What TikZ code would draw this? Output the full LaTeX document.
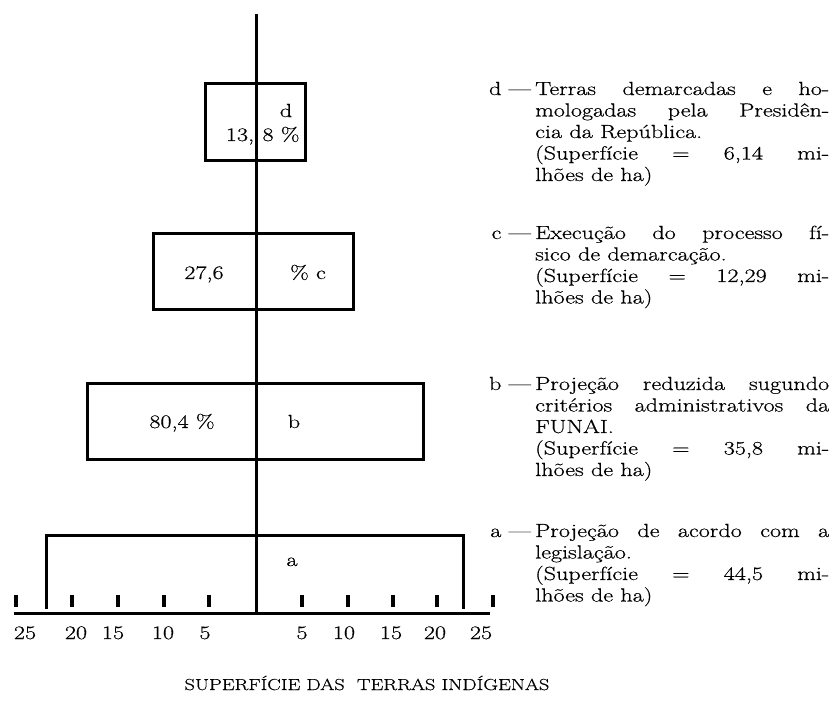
\documentclass[tikz,border=0pt]{standalone}
\usepackage{fontspec}
\setmainfont{Latin Modern Roman}[FakeStretch=1.27,FakeBold=0.5]
\usetikzlibrary{positioning}

\begin{document}
\begin{tikzpicture}[x=1pt,y=-1pt,
	linha/.style={line width=3pt},
	tique/.style={line width=3.5pt},
	rot/.style={font=\fontsize{19}{21.5}\selectfont, inner sep=0pt},
	legenda/.style={rot, anchor=base west}]
				\useasboundingbox (0,0) rectangle (836,703);
				\draw[linha] (256,14) -- (256,613);
				\draw[linha] (205,84) rectangle (305,161);
				\draw[linha] (153,234) rectangle (353,310);
				\draw[linha] (87,384) rectangle (423,459);
				\draw[linha] (46,609) -- (46,535) -- (463,535) -- (463,609);
				\draw[linha] (14,613) -- (490,613);
				\foreach \x in {16,72,118,164,209,302,348,393,437,493}
					\draw[tique] (\x,595) -- (\x,607);
				\foreach \x/\t in {25/25,76/20,113/15,163/10,205/5,302/5,344/10,391/15,435/20,481/25}
					\node[rot, anchor=base] (e\x) at (\x,639) {\t};
				\node[rot, anchor=base] (pd) at (240,141) {13,};
				\node[rot, anchor=base] (sd) at (281,141) {8 \%};
				\node[rot, anchor=base] (ld) at (286,117) {d};
				\node[rot, anchor=base] (pc) at (204,279) {27,6};
				\node[rot, anchor=base] (lc) at (308,279) {\% c};
				\node[rot, anchor=base] (pb) at (182,428) {80,4 \%};
				\node[rot, anchor=base] (lb) at (294,428) {b};
				\node[rot, anchor=base] (la) at (292,566) {a};
				\node[legenda] (td) at (535,95) {\parbox[t]{294pt}{\hyphenpenalty=10000 Terras demarcadas e ho-\linebreak mologadas pela Presidên-\linebreak cia da República.\\(Superfície = 6,14 mi-\linebreak lhões de ha)}};
				\node[legenda] (tc) at (535,239) {\parbox[t]{294pt}{\hyphenpenalty=10000 Execução do processo fí-\linebreak sico de demarcação.\\(Superfície = 12,29 mi-\linebreak lhões de ha)}};
				\node[legenda] (tb) at (535,390) {\parbox[t]{294pt}{\hyphenpenalty=10000 Projeção reduzida sugundo\linebreak critérios administrativos da\linebreak FUNAI.\\(Superfície = 35,8 mi-\linebreak lhões de ha)}};
				\node[legenda] (ta) at (535,537) {\parbox[t]{294pt}{\hyphenpenalty=10000 Projeção de acordo com a\linebreak legislação.\\(Superfície = 44,5 mi-\linebreak lhões de ha)}};
				\foreach \n/\l in {td/d,tc/c,tb/b,ta/a}
					\node[rot, anchor=base east] (m\l) at ([xshift=-4pt]\n.base west) {\l\ ---};
				\node[anchor=base, inner sep=0pt, font=\fontsize{16}{18}\selectfont] (titulo) at (367,690) {SUPERFÍCIE DAS\ \ TERRAS INDÍGENAS};
			\end{tikzpicture}
\end{document}
